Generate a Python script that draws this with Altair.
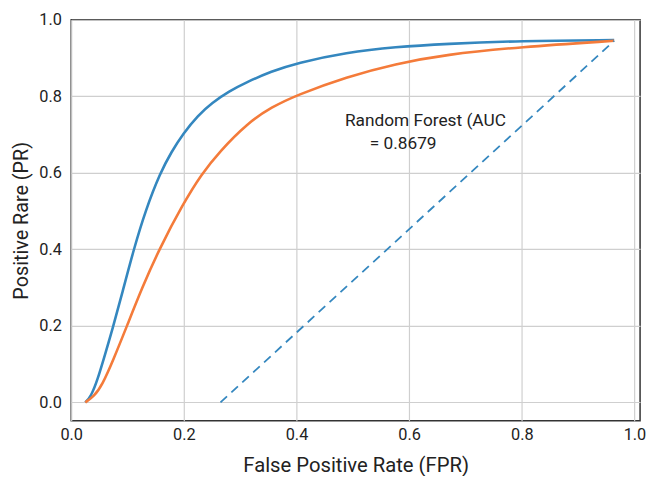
import altair as alt
import pandas as pd

# Blue ROC curve
blue_fpr = [0.025, 0.035, 0.047, 0.060, 0.073, 0.091, 0.111, 0.132, 0.158, 0.178, 0.199,
            0.225, 0.250, 0.280, 0.313, 0.355, 0.400, 0.489, 0.576, 0.664, 0.797, 0.964]
blue_tpr = [0.000, 0.015, 0.060, 0.125, 0.190, 0.288, 0.400, 0.502, 0.600, 0.655, 0.703,
            0.750, 0.783, 0.813, 0.838, 0.865, 0.887, 0.915, 0.929, 0.937, 0.945, 0.947]

# Orange ROC curve
orange_fpr = [0.025, 0.040, 0.055, 0.075, 0.099, 0.126, 0.156, 0.199, 0.231, 0.263, 0.313,
              0.356, 0.400, 0.489, 0.576, 0.664, 0.797, 0.964]
orange_tpr = [0.000, 0.015, 0.045, 0.112, 0.200, 0.300, 0.400, 0.520, 0.596, 0.655, 0.730,
              0.772, 0.803, 0.851, 0.885, 0.909, 0.929, 0.945]

# Dashed reference line
diag_fpr = [0.265, 0.964]
diag_tpr = [0.000, 0.945]

# Annotation
note_x = [0.486, 0.530]
note_y = [0.735, 0.675]
note_text = ["Random Forest (AUC", "= 0.8679"]

tick_vals = [0.0, 0.2, 0.4, 0.6, 0.8, 1.0]

FONT = "Roboto"
BLUE = "#3487bf"
ORANGE = "#f47b3a"

curves = pd.DataFrame({
    "fpr": blue_fpr + orange_fpr,
    "tpr": blue_tpr + orange_tpr,
    "model": ["blue"] * len(blue_fpr) + ["orange"] * len(orange_fpr),
    "order": list(range(len(blue_fpr))) + list(range(len(orange_fpr))),
})
diag = pd.DataFrame({"fpr": diag_fpr, "tpr": diag_tpr})
notes = pd.DataFrame({"fpr": note_x, "tpr": note_y, "text": note_text})

xscale = alt.Scale(domain=[0, 1.01], nice=False, zero=False)
yscale = alt.Scale(domain=[-0.048, 1.0], nice=False, zero=False)

xaxis = alt.Axis(values=tick_vals, format=".1f", title="False Positive Rate (FPR)",
                 labelFlush=False, labelOverlap=False, ticks=False, domain=False,
                 labelFontSize=16.5, labelPadding=6, titleFontSize=20.5, titlePadding=13,
                 gridColor="#cfcfcf", gridWidth=1.2)
yaxis = alt.Axis(values=tick_vals, format=".1f", title="Positive Rare (PR)",
                 labelFlush=False, labelOverlap=False, ticks=False, domain=False,
                 labelFontSize=16.5, labelPadding=10, titleFontSize=20, titlePadding=7,
                 gridColor="#cfcfcf", gridWidth=1.2)

lines = alt.Chart(curves).mark_line(strokeWidth=2.6, interpolate="basis").encode(
    x=alt.X("fpr:Q", scale=xscale, axis=xaxis),
    y=alt.Y("tpr:Q", scale=yscale, axis=yaxis),
    color=alt.Color("model:N", scale=alt.Scale(domain=["blue", "orange"], range=[BLUE, ORANGE]), legend=None),
    order="order:Q",
)

dash = alt.Chart(diag).mark_line(strokeWidth=1.8, strokeDash=[9, 6], color=BLUE).encode(
    x=alt.X("fpr:Q", scale=xscale),
    y=alt.Y("tpr:Q", scale=yscale),
)

text = alt.Chart(notes).mark_text(align="left", baseline="middle", fontSize=17.5,
                                  font=FONT, color="#222222").encode(
    x=alt.X("fpr:Q", scale=xscale),
    y=alt.Y("tpr:Q", scale=yscale),
    text="text:N",
)

chart = alt.layer(lines, dash, text).properties(
    width=576, height=406,
    padding={"left": 64, "top": 9, "right": 6, "bottom": 53},
    autosize=alt.AutoSizeParams(type="none"),
    background="white",
).configure_view(
    stroke="#333333", strokeWidth=1.5
).configure_axis(
    labelFont=FONT, titleFont=FONT, labelColor="#222222", titleColor="#222222",
    titleFontWeight="normal",
)

chart.save("out.html", embed_options={"renderer": "svg", "actions": False})
